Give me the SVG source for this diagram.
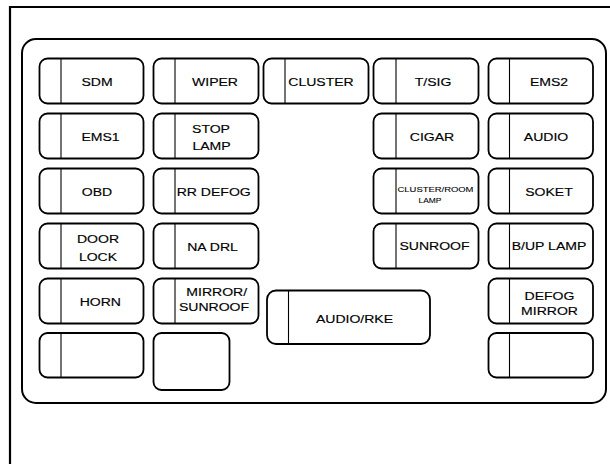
<svg xmlns="http://www.w3.org/2000/svg" width="610" height="464" viewBox="0 0 610 464">
<style>
.frame{fill:none;stroke:#000;stroke-width:2.2}
.panel{fill:#fff;stroke:#000;stroke-width:2}
.box{fill:#fff;stroke:#000;stroke-width:1.8}
.dv{stroke:#000;stroke-width:1.1}
.t{font-family:"Liberation Sans",Arial,Helvetica,sans-serif;font-size:11.7px;text-anchor:middle;fill:#000;stroke:#000;stroke-width:0.15}
.s{font-size:8px;stroke-width:0.1}
</style>
<rect width="610" height="464" fill="#fff"/>
<path class="frame" d="M10 464 V7 H610"/>
<rect class="panel" x="22" y="39" width="584" height="364" rx="14"/>

<g id="sdm"><rect class="box" x="39.5" y="58.5" width="104" height="45" rx="8"/><line class="dv" x1="61" y1="58.5" x2="61" y2="103.5"/><text class="t" transform="translate(97 86) scale(1.2 1)">SDM</text></g>
<g id="wiper"><rect class="box" x="153.5" y="58.5" width="105" height="45" rx="8"/><line class="dv" x1="175" y1="58.5" x2="175" y2="103.5"/><text class="t" transform="translate(215 86) scale(1.2 1)">WIPER</text></g>
<g id="cluster"><rect class="box" x="263.5" y="58.5" width="105" height="45" rx="8"/><line class="dv" x1="285" y1="58.5" x2="285" y2="103.5"/><text class="t" transform="translate(321 86) scale(1.2 1)">CLUSTER</text></g>
<g id="tsig"><rect class="box" x="373.5" y="58.5" width="105" height="45" rx="8"/><line class="dv" x1="396" y1="58.5" x2="396" y2="103.5"/><text class="t" transform="translate(433 86) scale(1.2 1)">T/SIG</text></g>
<g id="ems2"><rect class="box" x="488.5" y="58.5" width="104.5" height="45" rx="8"/><line class="dv" x1="509.5" y1="58.5" x2="509.5" y2="103.5"/><text class="t" transform="translate(549 86) scale(1.2 1)">EMS2</text></g>

<g id="ems1"><rect class="box" x="39.5" y="113.5" width="104" height="45" rx="8"/><line class="dv" x1="61" y1="113.5" x2="61" y2="158.5"/><text class="t" transform="translate(100.5 141) scale(1.2 1)">EMS1</text></g>
<g id="stoplamp"><rect class="box" x="153.5" y="113.5" width="105" height="45" rx="8"/><line class="dv" x1="175" y1="113.5" x2="175" y2="158.5"/><text class="t" transform="translate(211 132.7) scale(1.2 1)">STOP</text><text class="t" transform="translate(211.5 150) scale(1.2 1)">LAMP</text></g>
<g id="cigar"><rect class="box" x="373.5" y="113.5" width="105" height="45" rx="8"/><line class="dv" x1="396" y1="113.5" x2="396" y2="158.5"/><text class="t" transform="translate(432 141) scale(1.2 1)">CIGAR</text></g>
<g id="audio"><rect class="box" x="488.5" y="113.5" width="104.5" height="45" rx="8"/><line class="dv" x1="509.5" y1="113.5" x2="509.5" y2="158.5"/><text class="t" transform="translate(546 141) scale(1.2 1)">AUDIO</text></g>

<g id="obd"><rect class="box" x="39.5" y="168.5" width="104" height="45" rx="8"/><line class="dv" x1="61" y1="168.5" x2="61" y2="213.5"/><text class="t" transform="translate(97 195.5) scale(1.2 1)">OBD</text></g>
<g id="rrdefog"><rect class="box" x="153.5" y="168.5" width="105" height="45" rx="8"/><line class="dv" x1="175" y1="168.5" x2="175" y2="213.5"/><text class="t" transform="translate(213.7 196) scale(1.2 1)">RR DEFOG</text></g>
<g id="clusterroomlamp"><rect class="box" x="373.5" y="168.5" width="105" height="45" rx="8"/><line class="dv" x1="396" y1="168.5" x2="396" y2="213.5"/><text class="t s" transform="translate(435.5 192) scale(1.18 1)">CLUSTER/ROOM</text><text class="t s" transform="translate(430 203) scale(1.05 1)">LAMP</text></g>
<g id="soket"><rect class="box" x="488.5" y="168.5" width="104.5" height="45" rx="8"/><line class="dv" x1="509.5" y1="168.5" x2="509.5" y2="213.5"/><text class="t" transform="translate(549 196) scale(1.2 1)">SOKET</text></g>

<g id="doorlock"><rect class="box" x="39.5" y="223.5" width="104" height="45" rx="8"/><line class="dv" x1="61" y1="223.5" x2="61" y2="268.5"/><text class="t" transform="translate(98 242.7) scale(1.2 1)">DOOR</text><text class="t" transform="translate(98 260.7) scale(1.2 1)">LOCK</text></g>
<g id="nadrl"><rect class="box" x="153.5" y="223.5" width="105" height="45" rx="8"/><line class="dv" x1="175" y1="223.5" x2="175" y2="268.5"/><text class="t" transform="translate(212.5 250.5) scale(1.2 1)">NA DRL</text></g>
<g id="sunroof"><rect class="box" x="373.5" y="223.5" width="105" height="45" rx="8"/><line class="dv" x1="396" y1="223.5" x2="396" y2="268.5"/><text class="t" transform="translate(434.5 250) scale(1.2 1)">SUNROOF</text></g>
<g id="buplamp"><rect class="box" x="488.5" y="223.5" width="104.5" height="45" rx="8"/><line class="dv" x1="509.5" y1="223.5" x2="509.5" y2="268.5"/><text class="t" transform="translate(549 250) scale(1.2 1)">B/UP LAMP</text></g>

<g id="horn"><rect class="box" x="39.5" y="278.5" width="104" height="45" rx="8"/><line class="dv" x1="61" y1="278.5" x2="61" y2="323.5"/><text class="t" transform="translate(100.3 306) scale(1.2 1)">HORN</text></g>
<g id="mirrorsunroof"><rect class="box" x="153.5" y="278.5" width="105" height="45" rx="8"/><line class="dv" x1="175" y1="278.5" x2="175" y2="323.5"/><text class="t" transform="translate(216.7 296) scale(1.2 1)">MIRROR/</text><text class="t" transform="translate(214 310.7) scale(1.2 1)">SUNROOF</text></g>
<g id="defogmirror"><rect class="box" x="488.5" y="278.5" width="104.5" height="45" rx="8"/><line class="dv" x1="509.5" y1="278.5" x2="509.5" y2="323.5"/><text class="t" transform="translate(549.5 300) scale(1.2 1)">DEFOG</text><text class="t" transform="translate(549.5 315) scale(1.2 1)">MIRROR</text></g>

<g id="audiorke"><rect class="box" x="267" y="290.5" width="163" height="53.5" rx="9"/><line class="dv" x1="288.5" y1="290.5" x2="288.5" y2="344"/><text class="t" transform="translate(354.5 323) scale(1.2 1)">AUDIO/RKE</text></g>

<g id="spare1"><rect class="box" x="39.5" y="333" width="104" height="44.5" rx="8"/><line class="dv" x1="61" y1="333" x2="61" y2="377.5"/></g>
<g id="spare2"><rect class="box" x="153.5" y="333" width="76" height="57" rx="8"/></g>
<g id="spare3"><rect class="box" x="488.5" y="333" width="104.5" height="44.5" rx="8"/><line class="dv" x1="509.5" y1="333" x2="509.5" y2="377.5"/></g>
</svg>
